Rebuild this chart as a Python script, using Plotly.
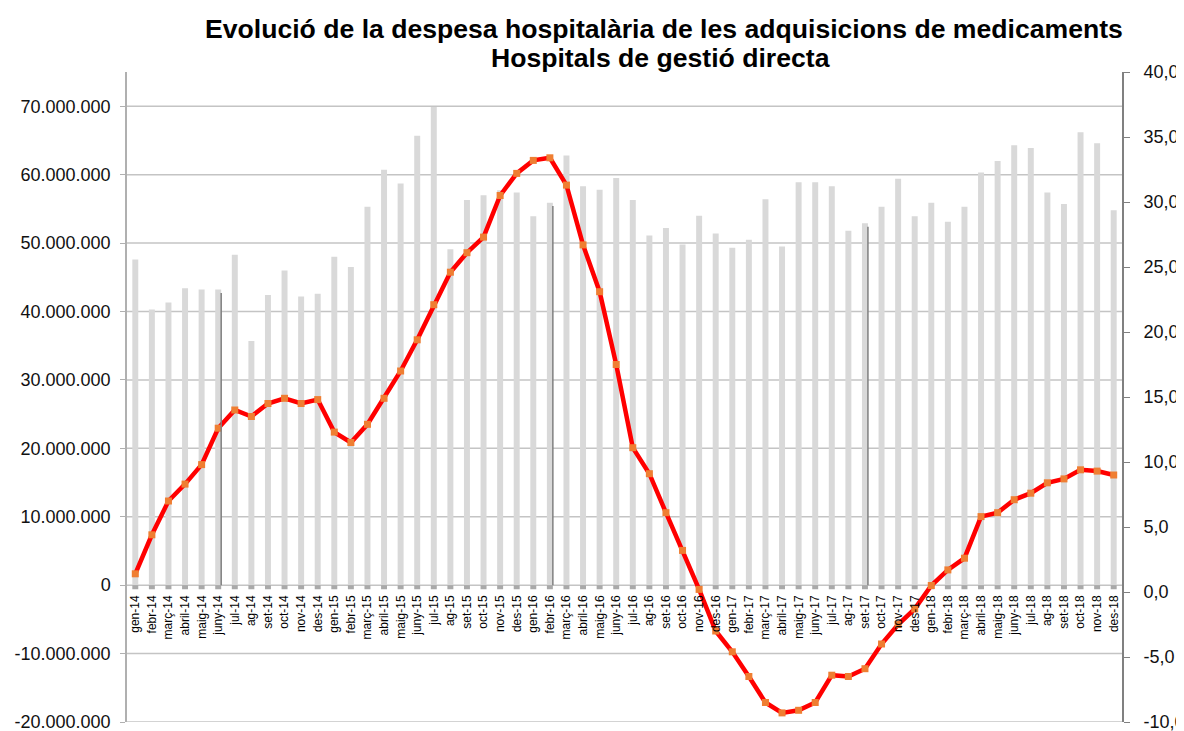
import plotly.graph_objects as go

months = ["gen", "febr", "març", "abril", "maig", "juny", "jul", "ag", "set", "oct", "nov", "des"]
years = ["14", "15", "16", "17", "18"]
categories = [f"{m}-{y}" for y in years for m in months]

# Despesa mensual (euros) - barres, eix esquerre
despesa = [
    47600000, 40300000, 41300000, 43400000, 43200000, 43200000, 48300000, 35700000, 42400000, 46000000, 42200000, 42600000,
    48000000, 46500000, 55300000, 60700000, 58700000, 65700000, 69900000, 49100000, 56300000, 57000000, 57700000, 57400000,
    53900000, 55900000, 62800000, 58300000, 57800000, 59500000, 56300000, 51100000, 52200000, 49800000, 54000000, 51400000,
    49300000, 50500000, 56400000, 49500000, 58900000, 58900000, 58300000, 51800000, 52900000, 55300000, 59400000, 53900000,
    55900000, 53100000, 55300000, 60300000, 62000000, 64300000, 63900000, 57400000, 55700000, 66200000, 64600000, 54800000,
]

# Creixement (%) - línia, eix dret
creixement = [
    1.4, 4.4, 7.0, 8.3, 9.8, 12.6, 14.0, 13.5, 14.5, 14.9, 14.5, 14.8,
    12.3, 11.5, 12.9, 14.9, 17.0, 19.4, 22.1, 24.6, 26.1, 27.3, 30.5, 32.2,
    33.2, 33.4, 31.3, 26.7, 23.1, 17.5, 11.1, 9.1, 6.1, 3.2, 0.2, -3.0,
    -4.6, -6.5, -8.5, -9.3, -9.1, -8.5, -6.4, -6.5, -5.9, -4.0, -2.5, -1.3,
    0.5, 1.7, 2.6, 5.8, 6.1, 7.1, 7.6, 8.4, 8.7, 9.4, 9.3, 9.0,
]

marked = ["juny-14", "febr-16", "set-17"]

left_ticks = list(range(-20000000, 70000001, 10000000))
left_text = [f"{v:,}".replace(",", ".") for v in left_ticks]
right_ticks = list(range(-10, 41, 5))
right_text = [f"{v:.1f}".replace(".", ",") for v in right_ticks]

FONT = "Liberation Sans, Arial, sans-serif"
BARGAP = 0.64

fig = go.Figure()
fig.add_trace(go.Bar(x=categories, y=despesa, marker=dict(color="#d9d9d9", line=dict(width=0)),
                     yaxis="y", showlegend=False, hoverinfo="skip"))
# darker foot of each bar (strip at zero)
fig.add_trace(go.Bar(x=categories, y=[600000] * len(categories), base=[-600000] * len(categories),
                     marker=dict(color="#a9a9a9", line=dict(width=0)), yaxis="y", showlegend=False,
                     hoverinfo="skip"))
fig.add_trace(go.Scatter(x=categories, y=creixement, yaxis="y2", mode="lines+markers",
                         line=dict(color="#ff0000", width=4.5),
                         marker=dict(symbol="square", size=7, color="#ef7e32", line=dict(width=0)),
                         showlegend=False))

shapes = []
# horizontal gridlines at the left-axis ticks
for v in left_ticks:
    shapes.append(dict(type="line", xref="paper", yref="y", x0=0, x1=1, y0=v, y1=v,
                       line=dict(color="#c4c4c4", width=1.5), layer="below"))
half = (1 - BARGAP) / 2
for c in marked:
    i = categories.index(c)
    shapes.append(dict(type="line", xref="x", yref="y", x0=i + half, x1=i + half,
                       y0=0, y1=despesa[i] - 500000, line=dict(color="#7f7f7f", width=1.5), layer="above"))

annotations = [
    dict(text="<b>Evolució de la despesa hospitalària de les adquisicions de medicaments</b>",
         xref="paper", yref="paper", x=0.5400, y=1.0662, xanchor="center", yanchor="middle",
         showarrow=False, font=dict(family=FONT, size=26.6, color="#000000")),
    dict(text="<b>Hospitals de gestió directa</b>",
         xref="paper", yref="paper", x=0.5357, y=1.0215, xanchor="center", yanchor="middle",
         showarrow=False, font=dict(family=FONT, size=26.6, color="#000000")),
]

# the page body has an 8px margin: size and margins compensate for it
fig.update_layout(
    width=1176, height=723,
    margin=dict(l=119, r=62, t=64, b=9, autoexpand=False),
    paper_bgcolor="white", plot_bgcolor="white",
    barmode="overlay", bargap=BARGAP,
    shapes=shapes, annotations=annotations,
    xaxis=dict(type="category", anchor="free", position=0.2, showline=False, showgrid=False,
               automargin=False,
               ticks="", tickangle=-90, tickfont=dict(family=FONT, size=12, color="#000000"),
               range=[-0.5, len(categories) - 0.5]),
    yaxis=dict(range=[-20000000, 75000000], tickvals=left_ticks, ticktext=left_text,
               showgrid=False, zeroline=False, ticklabeloverflow="allow", automargin=False,
               showline=True, linecolor="#b0b0b0", linewidth=1.5,
               ticks="outside", ticklen=5, tickcolor="#b0b0b0", ticklabelstandoff=6,
               tickfont=dict(family=FONT, size=18, color="#111111")),
    yaxis2=dict(range=[-10, 40], overlaying="y", side="right", tickvals=right_ticks, ticktext=right_text,
                showgrid=False, zeroline=False, showline=True, linecolor="#808080", linewidth=2,
                ticklabeloverflow="allow", automargin=False,
                ticks="outside", ticklen=6, tickcolor="#808080", ticklabelstandoff=10,
                tickfont=dict(family=FONT, size=18, color="#111111")),
)

fig.write_html("out.html")
